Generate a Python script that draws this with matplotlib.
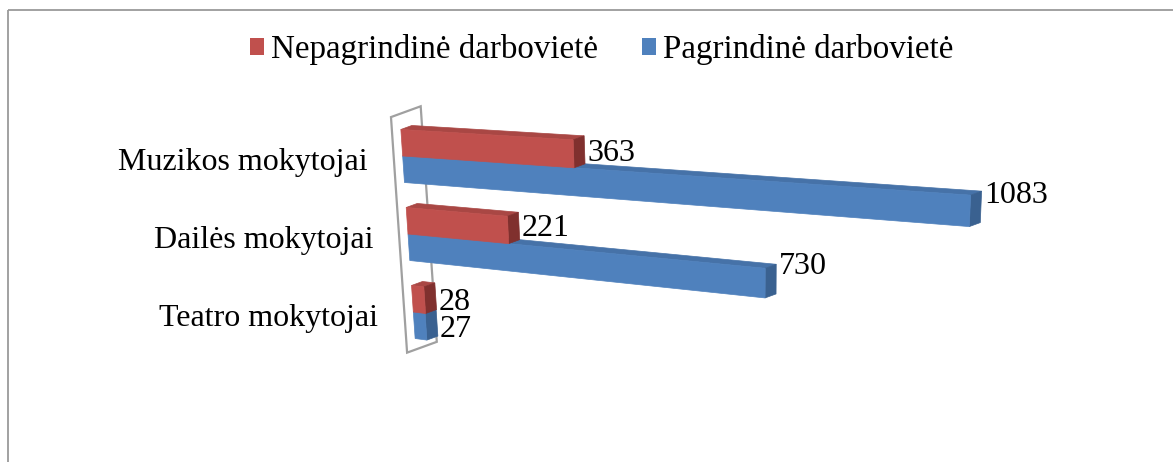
import numpy as np
import matplotlib
matplotlib.use('Agg')
import matplotlib.pyplot as plt
from matplotlib import transforms as mtransforms
from matplotlib.patches import Rectangle, Patch

# duomenys
categories = ['Muzikos mokytojai', 'Dailės mokytojai', 'Teatro mokytojai']
series_names = ['Nepagrindinė darbovietė', 'Pagrindinė darbovietė']
nepagrindine = [363, 221, 28]
pagrindine = [1083, 730, 27]

W, H = 1173, 462
FONT = 'Liberation Serif'
FS = 23

RED = dict(front='#C0504D', top='#A94744', side='#80302E')
BLUE = dict(front='#4F81BD', top='#4672A8', side='#3A6190')
BAR_H = 0.34

# pseudo 3D: value axis 0..X_MAX, rows ROW_MIN..ROW_MAX, depth 1 = one bar thick
X_MAX = 1200
PERSP = 1.32e-4
ROW_MIN, ROW_MAX = -0.5, 2.5
C_TL, C_BL = (400, 117), (416, 351)
C_TR, C_BR = (1046, 153), (1031, 436)
DEPTH = (11, -4)
LABEL_DRIFT = 0.021


def project(X, Y, Z):
    X, Y, Z = np.broadcast_arrays(np.asarray(X, float), np.asarray(Y, float),
                                  np.asarray(Z, float))
    u = (X / X_MAX) * (1 - PERSP * X_MAX) / (1 - PERSP * X)
    v = (Y - ROW_MIN) / (ROW_MAX - ROW_MIN)
    px = ((1 - u) * ((1 - v) * C_TL[0] + v * C_BL[0])
          + u * ((1 - v) * C_TR[0] + v * C_BR[0]) + Z * DEPTH[0])
    py = ((1 - u) * ((1 - v) * C_TL[1] + v * C_BL[1])
          + u * ((1 - v) * C_TR[1] + v * C_BR[1]) + Z * DEPTH[1])
    return px, py


class PlaneTransform(mtransforms.Transform):
    """2D coords on one plane of the 3D box -> pixel coords"""
    input_dims = 2
    output_dims = 2

    def __init__(self, fixed, value):
        super().__init__()
        self.fixed = fixed
        self.value = value

    def transform_non_affine(self, values):
        values = np.asarray(values, float).reshape(-1, 2)
        a, b = values[:, 0], values[:, 1]
        c = np.full_like(a, self.value)
        if self.fixed == 'z':      # (value, row)
            px, py = project(a, b, c)
        elif self.fixed == 'y':    # (value, depth)
            px, py = project(a, c, b)
        else:                      # (depth, row)
            px, py = project(c, b, a)
        return np.column_stack([px, py])


fig = plt.figure(figsize=(W / 100, H / 100), dpi=100)
ax = fig.add_axes([0, 0, 1, 1])
ax.axis('off')

# remelis
ax.add_patch(Rectangle((8, 10), W, H, fill=False, ec='#9a9a9a', lw=1.3))

# siena
wall = PlaneTransform('x', 0) + ax.transData
ax.add_patch(Rectangle((-0.8, -0.54), 2.7, 3.02, transform=wall, fill=False,
                       ec='#a0a0a0', lw=1.6, zorder=1))

rows = np.arange(len(categories))
front = PlaneTransform('z', 0) + ax.transData


def box_sides(value, y0, colors, z):
    top = Rectangle((0, 0), value, 1, transform=PlaneTransform('y', y0) + ax.transData,
                    fc=colors['top'], ec=colors['top'], lw=0.5, zorder=z)
    side = Rectangle((0, y0), 1, BAR_H, transform=PlaneTransform('x', value) + ax.transData,
                     fc=colors['side'], ec=colors['side'], lw=0.5, zorder=z)
    ax.add_patch(top)
    ax.add_patch(side)


for i in rows:
    box_sides(pagrindine[i], i, BLUE, 2)
    box_sides(nepagrindine[i], i - BAR_H, RED, 3)

ax.barh(rows + BAR_H / 2, pagrindine, height=BAR_H, left=0, transform=front,
        color=BLUE['front'], ec=BLUE['front'], lw=0.5, zorder=2)
ax.barh(rows - BAR_H / 2, nepagrindine, height=BAR_H, left=0, transform=front,
        color=RED['front'], ec=RED['front'], lw=0.5, zorder=3)


def value_label(value, yc):
    x_end, _ = project(value, yc, 1)
    _, y_left = project(0, yc, 0)
    y = y_left + LABEL_DRIFT * value
    ax.text(float(x_end) + 3, float(y) + 11, f'{value}', ha='left', va='baseline',
            family=FONT, fontsize=FS, zorder=5)


for i in rows:
    value_label(nepagrindine[i], i - BAR_H / 2)
    value_label(pagrindine[i], i + BAR_H / 2)

# kategoriju pavadinimai
for i, name in zip(rows, categories):
    ax.annotate(name, xy=(0, i), xycoords=front, xytext=(-35, -14),
                textcoords='offset pixels', ha='right', va='baseline',
                family=FONT, fontsize=FS)

handles = [Patch(facecolor=RED['front']), Patch(facecolor=BLUE['front'])]
ax.legend(handles, series_names, loc='center', bbox_to_anchor=(0.513, 0.892),
          ncol=2, frameon=False, prop={'family': FONT, 'size': 23.8},
          handlelength=0.42, handleheight=0.42, handletextpad=0.2,
          columnspacing=1.35, borderpad=0, borderaxespad=0)

ax.set_xlim(0, W)
ax.set_ylim(H, 0)

fig.savefig('out.png', dpi=100)
